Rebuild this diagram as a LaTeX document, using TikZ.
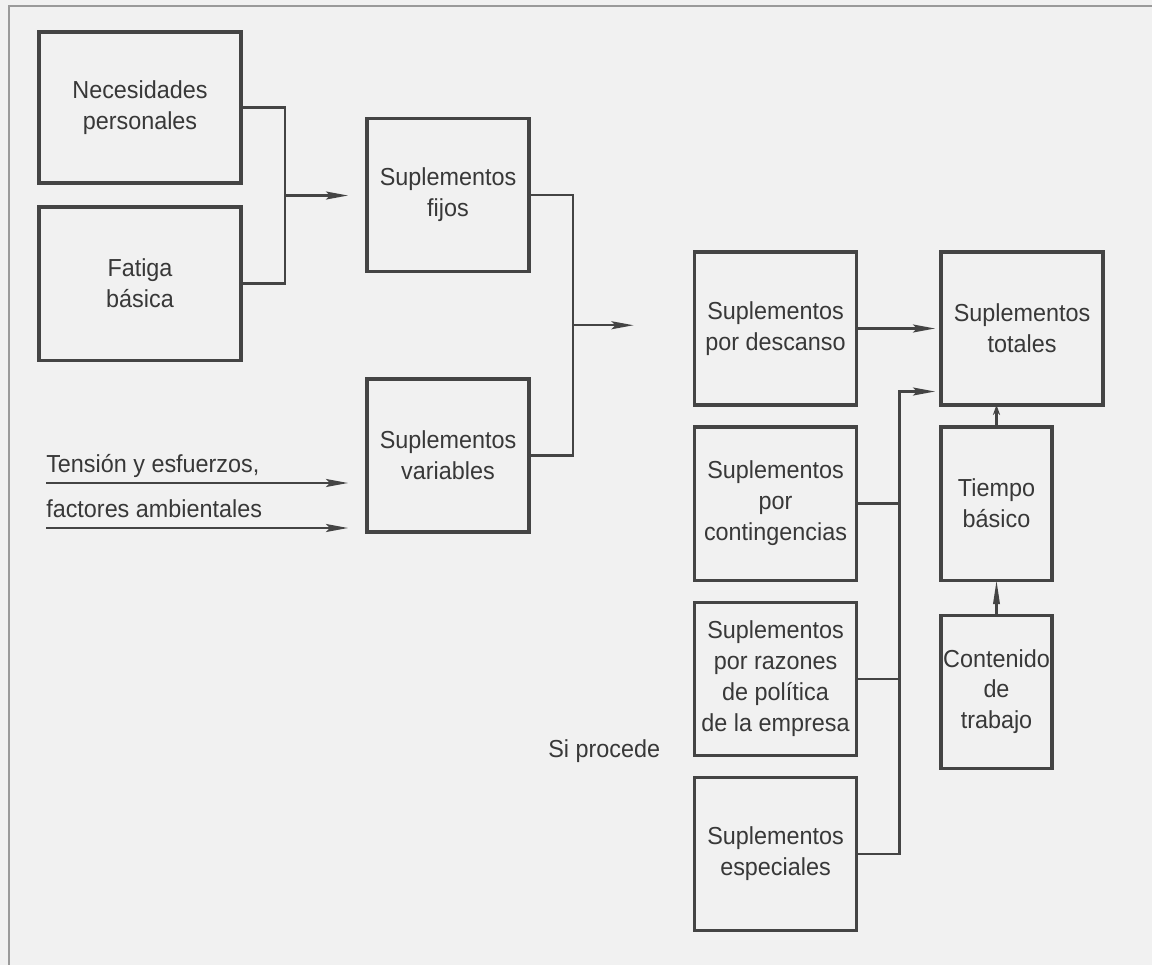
\documentclass[tikz,border=0pt]{standalone}
\usepackage{fontspec}
\setmainfont{Liberation Sans}[FakeStretch=0.95]
\usetikzlibrary{positioning,calc,arrows.meta}
\definecolor{paper}{HTML}{F1F1F1}
\definecolor{ink}{HTML}{444444}
\definecolor{txt}{HTML}{383838}
\definecolor{frm}{HTML}{9A9A9A}

\begin{document}
\begin{tikzpicture}[x=0.025cm, y=-0.025cm,
  box/.style={draw=ink, line width=2.2pt, align=center, text=txt,
    minimum width=4.05cm, minimum height=3.825cm, inner sep=0pt, outer sep=0pt,
    font=\fontsize{17.5}{22}\selectfont},
  wbox/.style={box, minimum width=5.05cm},
  nbox/.style={box, minimum width=2.775cm},
  lbl/.style={text=txt, inner sep=0pt, font=\fontsize{17.5}{22}\selectfont},
  ln/.style={draw=ink, line width=1.5pt},
  arr/.style={ln, -{Stealth[length=5.5mm, width=2mm, inset=1mm]}},
  node distance=0.55cm]
  \fill[paper] (0,0) rectangle (1152,965);
  \useasboundingbox (0,0) rectangle (1152,965);
  \draw[frm, line width=1.4pt] (9,965) -- (9,6) -- (1152,6);

  \node[wbox, minimum height=3.775cm] (nec) at (140,107.5) {Necesidades\\personales};
  \node[wbox, below=0.6cm of nec] (fat) {Fatiga\\básica};
  \node[box] (fij) at (448,195) {Suplementos\\fijos};
  \node[box] (var) at (448,455.5) {Suplementos\\variables};
  \node[box] (des) at (775.5,328.5) {Suplementos\\por descanso};
  \node[box, below=of des] (con) {Suplementos\\por\\contingencias};
  \node[box, below=of con] (raz) {Suplementos\\por razones\\de política\\de la empresa};
  \node[box, below=of raz] (esp) {Suplementos\\especiales};
  \node[box] (tot) at (1022,328.5) {Suplementos\\totales};
  \node[nbox, below right=0.55cm and 0cm of tot.south west] (tie) {Tiempo\\básico};
  \node[nbox, below=0.875cm of tie] (cnt) {Contenido\\de\\trabajo};

  \coordinate (ten) at (46,483);
  \coordinate (fac) at (46,528);
  \node[lbl, anchor=base west] (tenl) at ([yshift=0.275cm]ten) {Tensión y esfuerzos,};
  \node[lbl, anchor=base west] (facl) at ([yshift=0.275cm]fac) {factores ambientales};
  \node[lbl, anchor=base west] (sip) at (548,757) {Si procede};

  \coordinate (j1) at ($(nec.east)!.5!(fat.east)+(1.1cm,0)$);
  \coordinate (j2) at ($(fij.east)!.5!(var.east)+(1.1cm,0)$);
  \coordinate (j3) at ([xshift=1.075cm]esp.east);
  \coordinate (t2) at ([yshift=-1.575cm]tot.west);

  \draw[ln] (nec.east) -| (j1) |- (fat.east);
  \draw[arr, shorten >=0.475cm] (j1) -- (j1 -| fij.west);
  \draw[arr, shorten >=0.475cm] (ten) -- (ten -| var.west);
  \draw[arr, shorten >=0.475cm] (fac) -- (fac -| var.west);
  \draw[ln] (fij.east) -| (j2) |- (var.east);
  \draw[arr, shorten >=1.525cm] (j2) -- (j2 -| des.west);
  \draw[arr, shorten >=0.15cm] (des.east) -- (tot.west);
  \draw[ln] (con.east) -- (con.east -| j3);
  \draw[ln] (raz.east) -- (raz.east -| j3);
  \draw[arr, shorten >=0.15cm] (esp.east) -- (j3) |- (t2);
  \draw[ln, -{Stealth[length=2.5mm, width=1.8mm]}] (tie.north) -- (tie.north |- tot.south);
  \draw[ln, -{Triangle[length=6mm, width=1.6mm]}] (cnt.north) -- (tie.south);
\end{tikzpicture}
\end{document}
